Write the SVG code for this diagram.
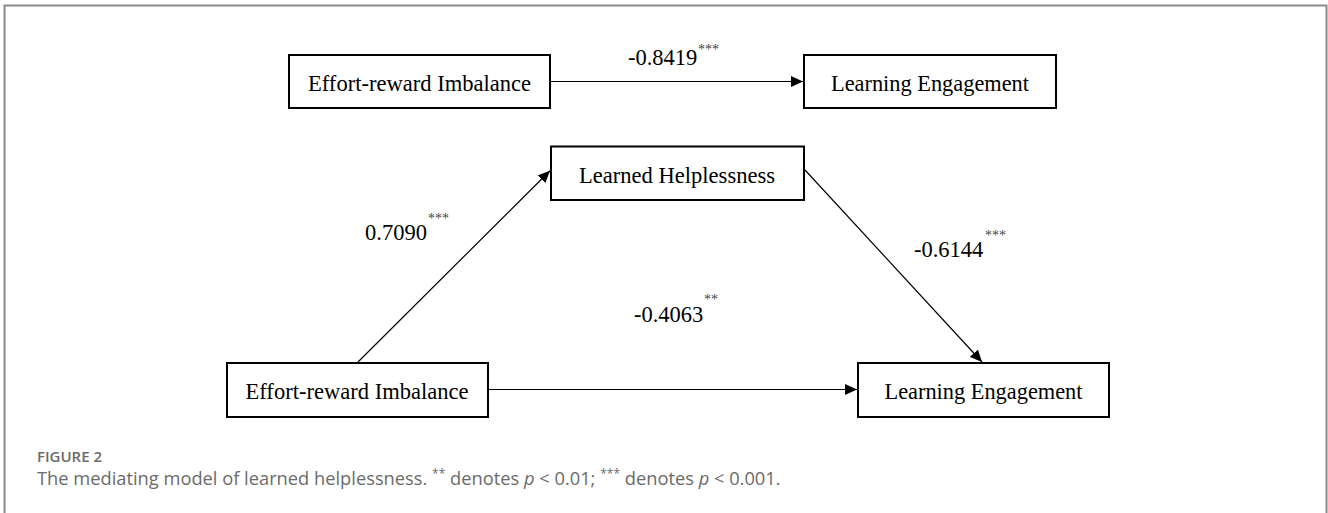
<svg xmlns="http://www.w3.org/2000/svg" width="1328" height="513" viewBox="0 0 1328 513">
<style>
.box{fill:#fff;stroke:#000;stroke-width:2}
.lbl{font-family:"Liberation Serif","Times New Roman",serif;font-size:24px;fill:#000;text-anchor:middle}
.num{font-family:"Liberation Serif","Times New Roman",serif;font-size:22.5px;fill:#000}
.sig{font-family:"Liberation Serif","Times New Roman",serif;font-size:14px;fill:#444}
.edge{stroke:#000;stroke-width:1.2;fill:none;marker-end:url(#arr)}
.cap{font-family:"Open Sans","Noto Sans",sans-serif;fill:#6b6b6b}
</style>
<defs>
<marker id="arr" markerUnits="userSpaceOnUse" markerWidth="12" markerHeight="11" refX="12" refY="5.5" orient="auto">
<path d="M0,0 L12,5.5 L0,11 Z" fill="#000"/>
</marker>
</defs>
<rect width="1328" height="513" fill="#fff"/>
<path d="M4.5,513 V5.5 H1326.5 V513" fill="none" stroke="#8a8a8a" stroke-width="2"/>
<g id="connectors">
<path class="edge" d="M551,81.5 H803"/>
<path class="edge" d="M358,362 L550,170.7"/>
<path class="edge" d="M805,170 L982,362"/>
<path class="edge" d="M489,389.5 H857"/>
</g>
<g id="labels">
<text class="num" x="628" y="65">-0.8419</text><text class="sig" x="698" y="53.5">***</text>
<text class="num" x="365" y="240">0.7090</text><text class="sig" x="428" y="222.5">***</text>
<text class="num" x="914" y="257">-0.6144</text><text class="sig" x="985" y="239.5">***</text>
<text class="num" x="634" y="321.7">-0.4063</text><text class="sig" x="704" y="303.5">**</text>
</g>
<g id="node-eri-top">
<rect class="box" x="289" y="55" width="261" height="53"/>
<text class="lbl" x="419.5" y="91.3" textLength="223" lengthAdjust="spacingAndGlyphs">Effort-reward Imbalance</text>
</g>
<g id="node-le-top">
<rect class="box" x="804" y="55" width="252" height="53"/>
<text class="lbl" x="930" y="91.3" textLength="198" lengthAdjust="spacingAndGlyphs">Learning Engagement</text>
</g>
<g id="node-lh">
<rect class="box" x="551" y="146.5" width="253" height="53.5"/>
<text class="lbl" x="677" y="183" textLength="196" lengthAdjust="spacingAndGlyphs">Learned Helplessness</text>
</g>
<g id="node-eri-bottom">
<rect class="box" x="227" y="363" width="261" height="54"/>
<text class="lbl" x="357" y="399.3" textLength="223" lengthAdjust="spacingAndGlyphs">Effort-reward Imbalance</text>
</g>
<g id="node-le-bottom">
<rect class="box" x="858" y="363" width="251" height="54"/>
<text class="lbl" x="983.5" y="399.3" textLength="198" lengthAdjust="spacingAndGlyphs">Learning Engagement</text>
</g>
<g id="caption">
<text class="cap" x="37" y="462" font-size="15" font-weight="600">FIGURE 2</text>
<text class="cap" x="37" y="485" font-size="18.3">The mediating model of learned helplessness. <tspan font-size="12" dy="-7">**</tspan><tspan dy="7"> denotes </tspan><tspan font-style="italic">p</tspan> &lt; 0.01; <tspan font-size="12" dy="-7">***</tspan><tspan dy="7"> denotes </tspan><tspan font-style="italic">p</tspan> &lt; 0.001.</text>
</g>
</svg>
